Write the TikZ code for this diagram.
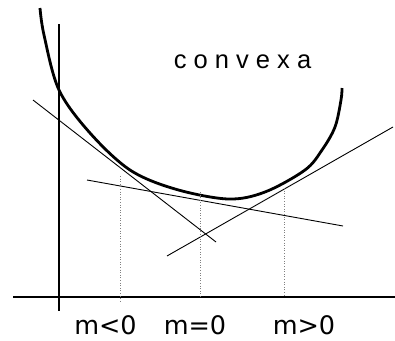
\documentclass[tikz,border=0pt]{standalone}
\usepackage{fontspec}
\setmainfont{Liberation Sans}
\newfontfamily\labfont{DejaVu Sans}
\begin{document}
\begin{tikzpicture}[x=1pt,y=-1pt,
  axis/.style={line width=2.6pt},
  curvestyle/.style={line width=2.8pt},
  tangent/.style={line width=0.9pt},
  guide/.style={line width=0.6pt,gray,dotted},
  lbl/.style={anchor=base,inner sep=0pt,font=\fontsize{25.5}{30}\selectfont},
  mlbl/.style={anchor=base,inner sep=0pt,text depth=0pt,font=\labfont\fontsize{25.5}{30}\selectfont}]
\useasboundingbox (0,0) rectangle (395,340);
% axes
\coordinate (ytop) at (59,24);
\coordinate (ybot) at (59,311);
\coordinate (xl) at (13,297);
\coordinate (xr) at (395,297);
\draw[axis] (ytop) -- (ybot);
\draw[axis] (xl) -- (xr);
% convex curve
\draw[curvestyle] plot[smooth,tension=0.55] coordinates {(40,8) (44,35) (59,90) (90,133) (130,170) (175,189) (228,199) (265,192) (305,170) (322,150) (335,127) (341,100) (342,88)};
% tangent lines
\coordinate (t1a) at (33,100);
\coordinate (t1b) at (216,242);
\coordinate (t2a) at (87,180);
\coordinate (t2b) at (343,226);
\coordinate (t3a) at (167,256);
\coordinate (t3b) at (393,127);
\draw[tangent] (t1a) -- (t1b);
\draw[tangent] (t2a) -- (t2b);
\draw[tangent] (t3a) -- (t3b);
% guides
\coordinate (g1a) at (120,176);
\coordinate (g1b) at (120,303);
\coordinate (g2a) at (200,192);
\coordinate (g2b) at (200,297);
\coordinate (g3a) at (284,188);
\coordinate (g3b) at (284,297);
\draw[guide] (g1a) -- (g1b);
\draw[guide] (g2a) -- (g2b);
\draw[guide] (g3a) -- (g3b);
% labels
\node[lbl] (conv) at (242.5,68) {c o n v e x a};
\node[mlbl] (mneg) at (105.5,334) {m<0};
\node[mlbl] (mzero) at (195,334) {m=0};
\node[mlbl] (mpos) at (304,334) {m>0};
\end{tikzpicture}
\end{document}
